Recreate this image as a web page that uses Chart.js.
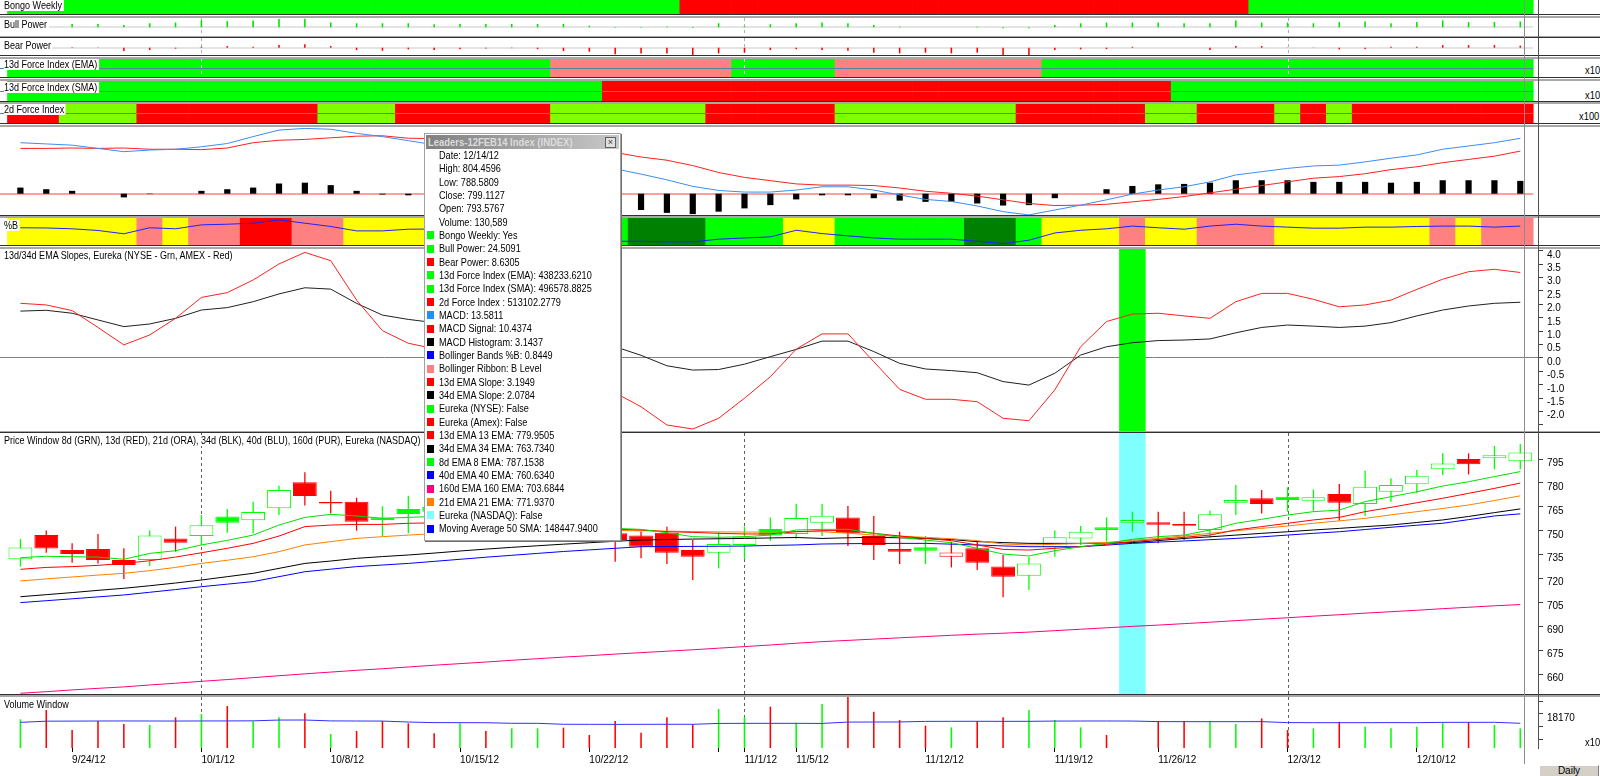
<!DOCTYPE html>
<html><head><meta charset="utf-8">
<script src="https://cdn.jsdelivr.net/npm/chart.js@4.4.1/dist/chart.umd.min.js"></script>
<style>
html,body{margin:0;padding:0;background:#fff;width:1600px;height:776px;overflow:hidden;}
#root{position:relative;width:1600px;height:776px;overflow:hidden;}
canvas{position:absolute;left:0;display:block;}
.lbl{position:absolute;font:11px "Liberation Sans",Arial,sans-serif;color:#000;background:#fff;white-space:nowrap;line-height:11px;padding:0 2px 0 0;z-index:5;transform:scaleX(0.82);transform-origin:0 0;}
.sep{position:absolute;left:0;width:1600px;z-index:6;}
.rt{position:absolute;font:11px "Liberation Sans",Arial,sans-serif;color:#000;white-space:nowrap;line-height:11px;z-index:5;transform:scaleX(0.85);transform-origin:0 0;}
#tip{position:absolute;left:424px;top:133px;width:195px;height:406px;background:#fff;border:1px solid #a0a0a0;box-shadow:1px 1px 0 #707070;z-index:10;font:11px "Liberation Sans",Arial,sans-serif;}
#tip .tt{position:absolute;left:1px;top:1px;right:1px;height:14px;background:linear-gradient(to right,#808080,#c8c8c8);}
#tip .ttx{position:absolute;left:2px;top:0;color:#dcdcdc;font-weight:bold;line-height:14px;white-space:nowrap;transform:scaleX(0.86);transform-origin:0 0;}
#tip .cx{position:absolute;right:3px;top:2px;width:9px;height:9px;border:1px solid #606060;background:#e0e0e0;color:#404040;font:9px/9px Arial,sans-serif;text-align:center;font-weight:normal;}
#tip .row{position:absolute;left:14px;white-space:nowrap;line-height:13px;color:#000;transform:scaleX(0.83);transform-origin:0 0;}
#tip .sq{position:absolute;left:2px;width:7px;height:8px;}
#daily{position:absolute;left:1539px;top:765px;width:58px;height:10px;background:#d4d0c8;border-top:1px solid #fff;border-left:1px solid #fff;border-right:1px solid #808080;border-bottom:1px solid #808080;font:10px/10px "Liberation Sans",Arial,sans-serif;text-align:center;color:#000;z-index:5;}
</style>
</head><body><div id="root"></div>
<script>
// ---------------- DATA ----------------
const dates = ["9/20/12","9/21/12","9/24/12","9/25/12","9/26/12","9/27/12","9/28/12","10/1/12","10/2/12","10/3/12","10/4/12","10/5/12","10/8/12","10/9/12","10/10/12","10/11/12","10/12/12","10/15/12","10/16/12","10/17/12","10/18/12","10/19/12","10/22/12","10/23/12","10/24/12","10/25/12","10/26/12","10/31/12","11/1/12","11/2/12","11/5/12","11/6/12","11/7/12","11/8/12","11/9/12","11/12/12","11/13/12","11/14/12","11/15/12","11/16/12","11/19/12","11/20/12","11/21/12","11/23/12","11/26/12","11/27/12","11/28/12","11/29/12","11/30/12","12/3/12","12/4/12","12/5/12","12/6/12","12/7/12","12/10/12","12/11/12","12/12/12","12/13/12","12/14/12"];
const xTickIdx = [2,7,12,17,22,27,28,30,35,40,44,49,54];
const xTickLabels = ["9/24/12","10/1/12","10/8/12","10/15/12","10/22/12","","11/1/12","11/5/12","11/12/12","11/19/12","11/26/12","12/3/12","12/10/12"];
const monthIdx = [7,28,49];

const openP  = [732.1,747.3,737.9,738.6,731.6,731.6,745.2,746.7,758.9,756.6,764.1,780.4,767.2,768.3,758.4,763.7,765.0,757.0,760.0,752.0,753.5,756.0,751.0,748.4,747.1,748.8,737.9,736.2,741.1,751.1,748.0,755.1,758.4,746.7,738.6,739.6,733.7,739.0,727.5,721.8,739.6,745.2,752.2,755.1,755.3,754.2,750.5,767.6,770.4,771.4,768.9,773.1,766.8,774.5,779.2,788.6,795.1,795.5,793.58];
const highP  = [744.8,750.1,742.1,748.0,739.0,750.1,752.6,759.9,763.7,768.3,778.3,786.7,775.2,770.8,765.5,772.0,769.0,764.0,762.5,758.0,759.0,757.5,753.0,749.0,749.5,752.6,744.2,749.4,752.6,758.4,767.0,766.8,765.5,759.3,749.4,746.7,743.2,743.2,734.8,733.7,750.1,753.0,758.4,762.0,762.0,762.0,762.6,778.7,775.6,777.3,776.0,779.4,787.7,782.9,788.2,798.6,798.6,803.2,804.46];
const lowP   = [727.5,736.2,730.0,729.5,719.7,727.9,736.9,741.1,748.8,748.4,759.9,765.8,760.9,750.1,746.7,748.4,757.0,754.0,751.0,749.5,750.0,747.0,744.5,730.6,732.7,729.1,719.1,726.4,732.1,743.8,745.0,746.7,740.4,731.6,729.1,729.1,727.0,725.4,708.2,712.8,733.7,741.1,743.2,749.4,742.1,744.2,745.9,759.9,760.9,762.0,762.0,756.3,759.3,768.3,773.5,785.0,785.4,788.6,788.58];
const closeP = [739.5,738.8,735.4,731.6,728.5,747.1,742.5,753.4,755.1,761.8,775.6,771.8,768.1,755.7,756.7,760.5,762.0,760.5,753.0,756.0,755.0,749.0,747.5,744.2,740.0,736.2,733.7,741.7,746.3,747.0,758.0,759.5,748.4,741.1,736.9,737.5,736.4,730.0,721.2,729.5,745.9,749.4,750.5,756.8,753.8,753.2,760.3,769.3,766.8,769.3,771.0,767.6,777.7,778.7,784.6,792.3,791.8,797.4,799.11];

const ema8   = [733.1,734.0,733.7,733.5,732.1,735.8,737.5,741.1,744.0,747.3,753.6,758.4,760.3,759.3,757.8,758.4,759.0,758.5,757.5,757.0,756.0,754.5,753.0,751.5,750.9,748.8,746.3,745.9,746.3,747.3,750.5,750.9,750.9,748.4,745.9,744.2,742.5,739.0,735.4,734.2,737.5,740.0,742.1,744.6,746.3,747.3,750.5,754.7,757.2,759.9,762.0,763.0,768.3,771.4,774.5,778.1,780.8,784.0,787.15];
const ema13  = [725.8,727.0,727.5,728.3,729.5,731.2,733.5,736.2,739.0,742.1,746.7,752.6,753.6,754.0,754.0,754.7,755.0,755.0,754.5,754.0,753.2,752.5,751.6,751.0,750.5,749.4,749.0,748.4,748.0,748.0,749.4,750.1,750.1,748.4,746.7,745.2,743.8,741.1,738.3,737.9,739.0,740.0,741.5,743.2,744.6,745.9,747.3,750.5,752.6,754.7,756.8,758.4,762.0,764.7,767.6,770.4,773.5,776.6,779.95];
const ema21  = [718.5,719.8,721.0,722.2,723.3,725.0,727.0,729.5,731.5,733.7,736.9,741.1,743.2,745.2,746.3,747.3,748.2,749.0,749.5,750.0,750.2,750.3,750.3,750.2,750.0,749.8,749.5,749.3,749.2,749.2,749.5,749.4,748.5,747.3,746.6,745.9,745.0,743.8,741.7,741.1,741.5,742.0,742.7,744.0,745.2,746.8,748.4,750.0,751.5,753.0,754.7,756.2,757.8,760.0,762.0,764.0,766.2,769.0,771.94];
const ema34  = [708.6,709.9,711.2,712.6,713.9,715.5,717.2,719.1,721.2,723.3,726.4,729.5,731.0,732.7,733.8,734.8,736.0,737.3,738.5,739.6,740.6,741.6,742.5,743.4,744.2,744.5,744.8,745.0,745.2,745.5,745.8,745.2,745.6,745.9,745.6,745.2,744.5,743.2,742.6,742.1,742.1,742.1,742.3,742.6,743.8,745.2,746.2,747.3,748.4,749.4,750.5,751.5,752.6,753.6,755.2,756.8,759.0,761.4,763.73];
const ema40  = [704.9,706.1,707.3,708.5,709.7,711.4,713.1,714.9,716.5,718.1,721.2,724.3,725.9,727.5,728.5,729.5,730.8,732.1,733.4,734.6,735.8,737.0,738.0,739.0,740.0,740.1,740.2,740.3,740.4,740.8,741.1,741.7,741.9,742.0,742.1,742.1,741.6,741.1,740.5,740.0,740.0,740.0,741.0,742.1,742.9,743.6,744.4,745.2,746.2,747.3,748.4,749.4,750.8,752.2,753.5,754.7,757.0,759.3,760.63];
const ema160 = [648.0,649.0,650.1,651.1,652.0,653.2,654.3,655.5,656.6,657.8,659.0,660.2,661.3,662.4,663.4,664.5,665.6,666.6,667.6,668.7,669.7,670.7,671.6,672.6,673.5,674.4,675.3,676.3,677.3,678.3,679.4,680.4,681.2,682.0,682.8,683.6,684.4,685.1,685.7,686.4,687.3,688.2,689.1,690.0,690.8,691.7,692.6,693.6,694.5,695.4,696.4,697.3,698.3,699.2,700.1,701.1,702.0,702.9,703.68];

const volume = [162600,198000,124600,156600,146000,142400,169700,181600,210000,156600,169700,184000,110400,121000,156600,148300,112700,148300,121000,130500,130500,133000,106800,156600,115000,169700,144800,199400,169700,207700,150700,217200,250000,190000,160000,140000,134000,156600,169700,195800,160200,134000,106800,45000,156600,156600,156600,146000,166000,124600,130500,154000,136500,130500,136500,150700,153000,142400,130589];
const volMA50 = [151900,156000,156300,156600,156800,156600,156500,156700,156900,157200,160000,160200,157000,156600,156400,153000,150900,150700,150500,148500,148300,145000,144800,144600,144800,145000,144900,148000,148300,148400,148300,148000,152800,153000,153200,155300,155500,155600,155400,155500,156400,156600,156700,156500,154500,154300,154200,154300,154400,150900,150700,150600,150700,150800,150700,151800,151900,152000,148448];
const volTicks = [90850,136275,181700,227125];
const volTickLabels = ["","","18170",""];

const macd   = [12.5,12.2,11.9,11.1,10.3,10.7,10.9,11.5,12.3,14.0,15.6,16.0,15.8,14.8,14.0,13.0,12.0,11.2,10.4,9.6,8.9,8.1,7.2,6.1,4.8,3.4,1.8,0.8,0.4,0.4,0.9,1.7,1.7,0.9,-0.3,-1.4,-1.9,-3.0,-4.4,-5.2,-4.0,-2.8,-1.5,-0.1,0.9,1.7,2.9,4.6,5.4,6.2,6.8,7.0,7.8,8.7,9.5,10.9,11.7,12.5,13.58];
const macdSignal = [11.1,11.1,11.2,11.1,11.2,10.9,10.9,10.8,11.2,12.5,13.1,13.3,13.7,14.1,14.2,13.6,13.5,13.3,13.0,12.6,12.1,11.5,10.8,10.1,9.0,8.2,6.9,5.2,4.0,3.2,2.4,2.1,2.1,2.0,1.4,0.6,0.1,-0.6,-1.5,-2.4,-2.9,-2.8,-2.6,-2.0,-1.4,-0.7,0.2,1.1,2.0,2.9,3.8,4.2,4.9,5.9,6.6,7.6,8.4,9.2,10.44];
const macdHist = [1.5,1.1,0.7,0,-0.9,-0.1,0,0.7,1.1,1.5,2.5,2.7,2.1,0.7,-0.2,-0.4,-1.5,-2.1,-2.6,-3.0,-3.2,-3.4,-3.6,-4.0,-4.0,-4.7,-5.0,-4.4,-3.6,-2.8,-1.4,-0.4,-0.4,-1.1,-1.7,-2.0,-2.0,-2.4,-2.9,-2.8,-1.1,0,1.1,1.9,2.3,2.4,2.7,3.3,3.3,3.3,2.9,2.9,2.9,2.7,2.9,3.3,3.3,3.3,3.14];

const pctB = [0.68,0.67,0.63,0.55,0.39,0.68,0.63,0.82,0.85,0.90,1.06,0.90,0.74,0.53,0.53,0.61,0.62,0.55,0.45,0.42,0.35,0.20,0.12,0.03,0.03,0.00,0.00,0.13,0.19,0.24,0.56,0.40,0.29,0.19,0.13,0.13,0.13,0.03,-0.08,0.08,0.43,0.56,0.63,0.76,0.68,0.61,0.76,0.85,0.76,0.71,0.66,0.66,0.71,0.71,0.74,0.76,0.76,0.71,0.76];
// Bollinger ribbon level per bar: Y=middle, P=B level, R=above, G=low, D=below
const ribbon = "YYYYYPYPPRRPPYYYYYYYYGGGDDDGGGYYGGGGGDDGYYYPYYPPPYYYYYYPYPP".split("");

const slope13 = [2.04,1.98,1.77,1.14,0.49,0.86,1.48,2.26,2.44,2.91,3.51,3.94,3.63,2.16,1.02,0.55,0.35,0.10,-0.15,-0.35,-0.55,-0.80,-1.05,-1.30,-1.82,-2.50,-2.65,-2.25,-1.50,-0.70,0.33,0.90,0.90,-0.14,-1.17,-1.54,-1.54,-1.63,-2.25,-2.34,-1.19,0.42,1.36,1.64,1.67,1.57,1.48,2.10,2.41,2.41,2.19,1.91,1.98,2.16,2.56,2.94,3.22,3.31,3.19];
const slope34 = [1.75,1.78,1.67,1.42,1.17,1.27,1.48,1.79,1.88,2.10,2.39,2.62,2.57,2.04,1.60,1.44,1.32,1.20,1.08,0.96,0.85,0.74,0.60,0.42,0.10,-0.29,-0.45,-0.43,-0.23,0.05,0.32,0.63,0.63,0.24,-0.20,-0.41,-0.47,-0.55,-0.88,-1.01,-0.57,0.11,0.42,0.57,0.65,0.67,0.71,0.94,1.14,1.23,1.19,1.14,1.19,1.32,1.57,1.79,1.94,2.04,2.08];
const slopeTicks = [-2.5,-2,-1.5,-1,-0.5,0,0.5,1,1.5,2,2.5,3,3.5,4];
const slopeTickLabels = ["","-2.0","-1.5","-1.0","-0.5","0.0","0.5","1.0","1.5","2.0","2.5","3.0","3.5","4.0"];
const priceTicks = [660,675,690,705,720,735,750,765,780,795];
const priceTickLabels = ["660","675","690","705","720","735","750","765","780","795"];

const eurekaNYSE = [43];
const eurekaNASDAQ = [43];

const bullPower = [19,23,14,14,10,17,20,29,26,29,35,36,20,17,17,17,13,14,14,14,14,14,7,-2,-2,3,-3,17,4,13,17,20,17,10,3,0,0,3,-4,-4,10,17,20,20,20,17,17,29,20,20,17,22,24,17,22,29,22,22,24.5];
const bearPower = [2,9,2,1,-14,-10,-4,4,7,4,11,15,7,-10,-13,-7,-10,-7,-3,-2,-6,-14,-17,-28,-24,-24,-31,-24,-21,-10,-7,-10,-13,-21,-24,-21,-24,-21,-31,-31,-10,-7,-6,4,0,0,-10,7,7,1,1,-7,-6,4,4,11,11,11,8.63];

// band states: G=green, R=red, P=light red, L=light green
const bongoWeekly = "GGGGGGGGGGGGGGGGGGGGGGGGGGRRRRRRRRRRRRRRRRRRRRRRGGGGGGGGGGG".split("");
const force13EMA  = "GGGGGGGGGGGGGGGGGGGGGPPPPPPPGGGGPPPPPPPPGGGGGGGGGGGGGGGGGGG".split("");
const force13SMA  = "GGGGGGGGGGGGGGGGGGGGGGGRRRRRRRRRRRRRRRRRRRRRRGGGGGGGGGGGGGG".split("");
const force2d     = "RRLLLRRRRRRRLLLRRRRRRLLLLLLRRRRRLLLLLLLRRRRRLLRRRLRLRRRRRRR".split("");

// ---------------- RENDER ----------------
const FONT = '"Liberation Sans",Arial,sans-serif';
Chart.defaults.font.family = FONT;
Chart.defaults.font.size = 10;
Chart.defaults.color = '#000';
const XMIN = -0.789, XMAX = 58.685;
const COL = {G:'#00ff00', R:'#ff0000', P:'#ff8080', L:'#80ff00', Y:'#ffff00', D:'#008000', C:'#80ffff'};
const root = document.getElementById('root');
const idx = dates.map((d,i)=>i);
const pts = arr => arr.map((v,i)=>({x:i,y:v}));
const fl = (a,b) => a.map((v,i)=>({x:i,y:[b?b[i]:0, v]}));

function deco(o){
  function draw(chart, after){
    const {ctx, chartArea:a, scales} = chart; const x=scales.x, y=scales.y;
    ctx.save();
    (o.hlines||[]).forEach(h=>{ if(!!h.after!==after) return;
      let py = y.getPixelForValue(h.y); if(h.width%2===1) py=Math.round(py-0.5)+0.5; else py=Math.round(py);
      const x0 = h.from==null ? a.left : x.getPixelForValue(h.from);
      const x1 = h.to==null ? a.right : x.getPixelForValue(h.to);
      ctx.strokeStyle=h.color; ctx.lineWidth=h.width; ctx.setLineDash([]);
      ctx.beginPath(); ctx.moveTo(x0,py); ctx.lineTo(x1,py); ctx.stroke(); });
    (o.vlines||[]).forEach(v=>{ if(!!v.after!==after) return;
      v.idx.forEach(i=>{ const px=Math.round(x.getPixelForValue(i))+0.5;
        ctx.strokeStyle=v.color; ctx.lineWidth=1; ctx.setLineDash(v.dash||[]);
        ctx.beginPath(); ctx.moveTo(px,a.top); ctx.lineTo(px,a.bottom); ctx.stroke(); }); });
    ctx.restore();
  }
  return {id:'deco', beforeDatasetsDraw(c){draw(c,false);}, afterDatasetsDraw(c){draw(c,true);}};
}

function mk(top, h, w, datasets, yopt, extra){
  const c = document.createElement('canvas'); c.width=w; c.height=h; c.style.top=top+'px';
  root.appendChild(c);
  const scales = {
    x:{type:'linear', min:XMIN, max:XMAX, display:false, offset:false, grid:{offset:false}},
    y:Object.assign({display:false}, yopt)
  };
  if(extra && extra.x) Object.assign(scales.x, extra.x);
  return new Chart(c, {
    data:{datasets},
    options:{responsive:false, animation:false, devicePixelRatio:1, layout:{padding:0},
      plugins:{legend:{display:false}, tooltip:{enabled:false}},
      elements:{point:{radius:0}, line:{borderWidth:1, tension:0}},
      scales},
    plugins: extra && extra.deco ? [deco(extra.deco)] : []
  });
}
const bandDs = states => ({type:'bar', data:idx.map(i=>({x:i,y:[0,1]})), backgroundColor:states.map(s=>COL[s]), barPercentage:1, categoryPercentage:1, borderWidth:0, grouped:false});
const lineDs = (arr,color,w) => ({type:'line', data:pts(arr), borderColor:color, borderWidth:w||1, pointRadius:0, fill:false});
const rightAxis = (min,max,ticks,labels) => ({display:true, position:'right', min, max,
  afterFit(s){s.width=62; s.paddingTop=0; s.paddingBottom=0;},
  afterBuildTicks(s){s.ticks = ticks.map(v=>({value:v}));},
  ticks:{callback:(v,i)=>labels[i], padding:4, labelOffset:4, autoSkip:false, font:{size:10,family:FONT}, color:'#000'},
  grid:{display:true, drawOnChartArea:false, drawTicks:true, tickLength:5, color:'#404040'},
  border:{display:false}});

// Bongo weekly
mk(0, 14, 1538, [bandDs(bongoWeekly)], {min:0,max:1});
// Bull power
mk(18, 18, 1538, [{type:'bar', data:fl(bullPower), backgroundColor:'#00e000', barPercentage:0.06, categoryPercentage:1, grouped:false}], {min:-36.7,max:39.2},
  {deco:{hlines:[{y:0,color:'#e4e4e4',width:2,from:-0.5,to:58.5}], vlines:[{idx:monthIdx,color:'#b0b0b0',dash:[3,3]}]}});
// Bear power
mk(38, 17, 1538, [{type:'bar', data:fl(bearPower), backgroundColor:'#ff0000', barPercentage:0.06, categoryPercentage:1, grouped:false}], {min:-30.8,max:40.9},
  {deco:{hlines:[{y:0,color:'#e4e4e4',width:2,from:-0.5,to:58.5}], vlines:[{idx:monthIdx,color:'#b0b0b0',dash:[3,3]}]}});
// Force index bands
mk(59, 18, 1538, [bandDs(force13EMA)], {min:0,max:1}, {deco:{hlines:[{y:0.5,color:'#4a8a9a',width:1,to:58.5,after:true}], vlines:[{idx:monthIdx,color:'#ffffff',dash:[3,3],after:true}]}});
mk(81, 20, 1538, [bandDs(force13SMA)], {min:0,max:1}, {deco:{hlines:[{y:0.5,color:'#4a8a9a',width:1,to:58.5,after:true}]}});
mk(104, 19, 1538, [bandDs(force2d)], {min:0,max:1}, {deco:{hlines:[{y:0.5,color:'#4a8a9a',width:1,to:58.5,after:true}]}});
// MACD
mk(127, 88, 1538, [
  lineDs(macd,'#3c8cf5'), lineDs(macdSignal,'#ff2020'),
  {type:'bar', data:fl(macdHist), backgroundColor:'#000', barPercentage:0.24, categoryPercentage:1, grouped:false}
], {min:-5.22,max:16.35}, {deco:{hlines:[{y:0,color:'#ffa0a0',width:2,to:58.5}]}});
// %B with Bollinger ribbon
mk(218, 27, 1538, [
  lineDs(pctB,'#2020ff'),
  {type:'bar', data:idx.map(i=>({x:i,y:[-0.15,1.15]})), backgroundColor:ribbon.map(s=>COL[s]), barPercentage:1, categoryPercentage:1, borderWidth:0, grouped:false}
], {min:-0.15,max:1.15});
// Slopes
mk(249, 182, 1600, [
  lineDs(slope13,'#ff2020'), lineDs(slope34,'#202020'),
  {type:'bar', data:idx.map(i=>({x:i,y:eurekaNYSE.includes(i)?[-2.724,4.067]:null})), backgroundColor:COL.G, barPercentage:1, categoryPercentage:1, borderWidth:0, grouped:false}
], rightAxis(-2.724,4.067,slopeTicks,slopeTickLabels), {deco:{hlines:[{y:0,color:'#808080',width:1}]}});
// Price
const bodyCol = closeP.map((c,i)=> i===0 || c>=closeP[i-1] ? COL.G : COL.R);
mk(433, 261, 1600, [
  lineDs(ema8,'#00e000'), lineDs(ema13,'#ff0000'), lineDs(ema21,'#ff8000'), lineDs(ema34,'#000000'), lineDs(ema40,'#0000ff'), lineDs(ema160,'#ff0080'),
  {type:'bar', data:fl(closeP,openP).map(d=>({x:d.x,y:[Math.min(d.y[0],d.y[1]),Math.max(d.y[0],d.y[1])]})),
    backgroundColor:closeP.map((c,i)=> c>openP[i] ? '#ffffff' : bodyCol[i]), borderColor:bodyCol, borderWidth:1, borderSkipped:false,
    barPercentage:0.92, categoryPercentage:1, grouped:false},
  {type:'bar', data:fl(highP,lowP), backgroundColor:bodyCol, barPercentage:0.05, categoryPercentage:1, grouped:false},
  {type:'bar', data:idx.map(i=>({x:i,y:eurekaNASDAQ.includes(i)?[647.54,811.38]:null})), backgroundColor:COL.C, barPercentage:1, categoryPercentage:1, borderWidth:0, grouped:false}
], rightAxis(647.54,811.38,priceTicks,priceTickLabels), {deco:{vlines:[{idx:monthIdx,color:'#606060',dash:[3,3]}]}});
// Volume + date axis
mk(697, 79, 1600, [
  lineDs(volMA50,'#3030ff'),
  {type:'bar', data:fl(volume), backgroundColor:closeP.map((c,i)=> c>=openP[i] ? COL.G : COL.R), barPercentage:0.06, categoryPercentage:1, grouped:false}
], rightAxis(60520,242080,volTicks,volTickLabels), {
  x:{display:true, position:'bottom', afterFit(s){s.height=28; s.paddingLeft=0; s.paddingRight=0;},
     afterBuildTicks(s){s.ticks = xTickIdx.map(v=>({value:v}));},
     ticks:{autoSkip:false, maxRotation:0, minRotation:0, align:'start', padding:2, callback:(v,i)=>xTickLabels[i], font:{size:10,family:FONT}, color:'#000'},
     grid:{display:true, drawOnChartArea:false, drawTicks:true, tickLength:4, color:'#000', offset:false},
     border:{display:false}},
  deco:{vlines:[{idx:monthIdx,color:'#606060',dash:[3,3]}]}
});

// ---------- chrome: separators, labels, frame ----------
const seps = [[14,4],[36,2],[55,4],[77,4],[101,3],[123,4],[215,3],[245,4],[431,2],[694,3]];
seps.forEach(([t,h])=>{
  const d=document.createElement('div'); d.className='sep';
  d.style.top=t+'px'; d.style.height=h+'px';
  d.style.background = h>=4 ? 'linear-gradient(#303030 0 1px,#ffffff 1px 2px,#a8a8a8 2px 4px)' : (h===3 ? 'linear-gradient(#303030 0 1px,#a8a8a8 1px 3px)' : 'linear-gradient(#a8a8a8 0 1px,#303030 1px 2px)');
  root.appendChild(d);
});
const vline=(x,t,h,c)=>{const d=document.createElement('div'); d.style.cssText=`position:absolute;left:${x}px;top:${t}px;width:1px;height:${h}px;background:${c};z-index:7;`; root.appendChild(d);};
vline(1538,0,749,'#505050');
vline(1524,0,764,'#8c8c8c');

const labels = [
 ['Bongo Weekly',0],['Bull Power',19],['Bear Power',40],['13d Force Index (EMA)',59],['13d Force Index (SMA)',82],['2d Force Index',104],
 ['%B',220],['13d/34d EMA Slopes, Eureka (NYSE - Grn, AMEX - Red)',250],
 ['Price Window 8d (GRN), 13d (RED), 21d (ORA), 34d (BLK), 40d (BLU), 160d (PUR), Eureka (NASDAQ)',435],['Volume Window',699]
];
labels.forEach(([t,y])=>{const d=document.createElement('div'); d.className='lbl'; d.textContent=t; d.style.left='4px'; d.style.top=y+'px'; root.appendChild(d);});
[['x10',1585,65],['x10',1585,90],['x100',1579,111],['x10',1585,737]].forEach(([t,x,y])=>{const d=document.createElement('div'); d.className='rt'; d.textContent=t; d.style.left=x+'px'; d.style.top=y+'px'; root.appendChild(d);});
const btn=document.createElement('div'); btn.id='daily'; btn.textContent='Daily'; root.appendChild(btn);

// ---------- data window ----------
const tipTitle = 'Leaders-12FEB14 Index (INDEX)';
const tipRows = [
 ['', 'Date: 12/14/12'], ['', 'High: 804.4596'], ['', 'Low: 788.5809'], ['', 'Close: 799.1127'], ['', 'Open: 793.5767'], ['', 'Volume: 130,589'],
 ['#00ff00','Bongo Weekly: Yes'], ['#00ff00','Bull Power: 24.5091'], ['#ff0000','Bear Power: 8.6305'],
 ['#00ff00','13d Force Index (EMA): 438233.6210'], ['#00ff00','13d Force Index (SMA): 496578.8825'], ['#ff0000','2d Force Index : 513102.2779'],
 ['#1e90ff','MACD: 13.5811'], ['#ff0000','MACD Signal: 10.4374'], ['#000000','MACD Histogram: 3.1437'],
 ['#0000ff','Bollinger Bands %B: 0.8449'], ['#ff8080','Bollinger Ribbon: B Level'], ['#ff0000','13d EMA Slope: 3.1949'], ['#000000','34d EMA Slope: 2.0784'],
 ['#00ff00','Eureka (NYSE): False'], ['#ff0000','Eureka (Amex): False'], ['#ff0000','13d EMA 13 EMA: 779.9505'], ['#000000','34d EMA 34 EMA: 763.7340'],
 ['#00ff00','8d EMA 8 EMA: 787.1538'], ['#0000ff','40d EMA 40 EMA: 760.6340'], ['#ff0080','160d EMA 160 EMA: 703.6844'], ['#ff8000','21d EMA 21 EMA: 771.9370'],
 ['#80ffff','Eureka (NASDAQ): False'], ['#0000ff','Moving Average 50 SMA: 148447.9400']
];
const tip=document.createElement('div'); tip.id='tip';
const tt=document.createElement('div'); tt.className='tt';
const ttx=document.createElement('div'); ttx.className='ttx'; ttx.textContent=tipTitle; tt.appendChild(ttx);
const cx=document.createElement('div'); cx.className='cx'; cx.textContent='×'; tt.appendChild(cx); tip.appendChild(tt);
tipRows.forEach(([c,t],k)=>{
  const top = 15 + k*13.33;
  if(c){const s=document.createElement('div'); s.className='sq'; s.style.background=c; s.style.top=(top+2.5)+'px'; tip.appendChild(s);}
  const r=document.createElement('div'); r.className='row'; r.textContent=t; r.style.top=top+'px'; tip.appendChild(r);
});
root.appendChild(tip);
</script>
</body></html>
